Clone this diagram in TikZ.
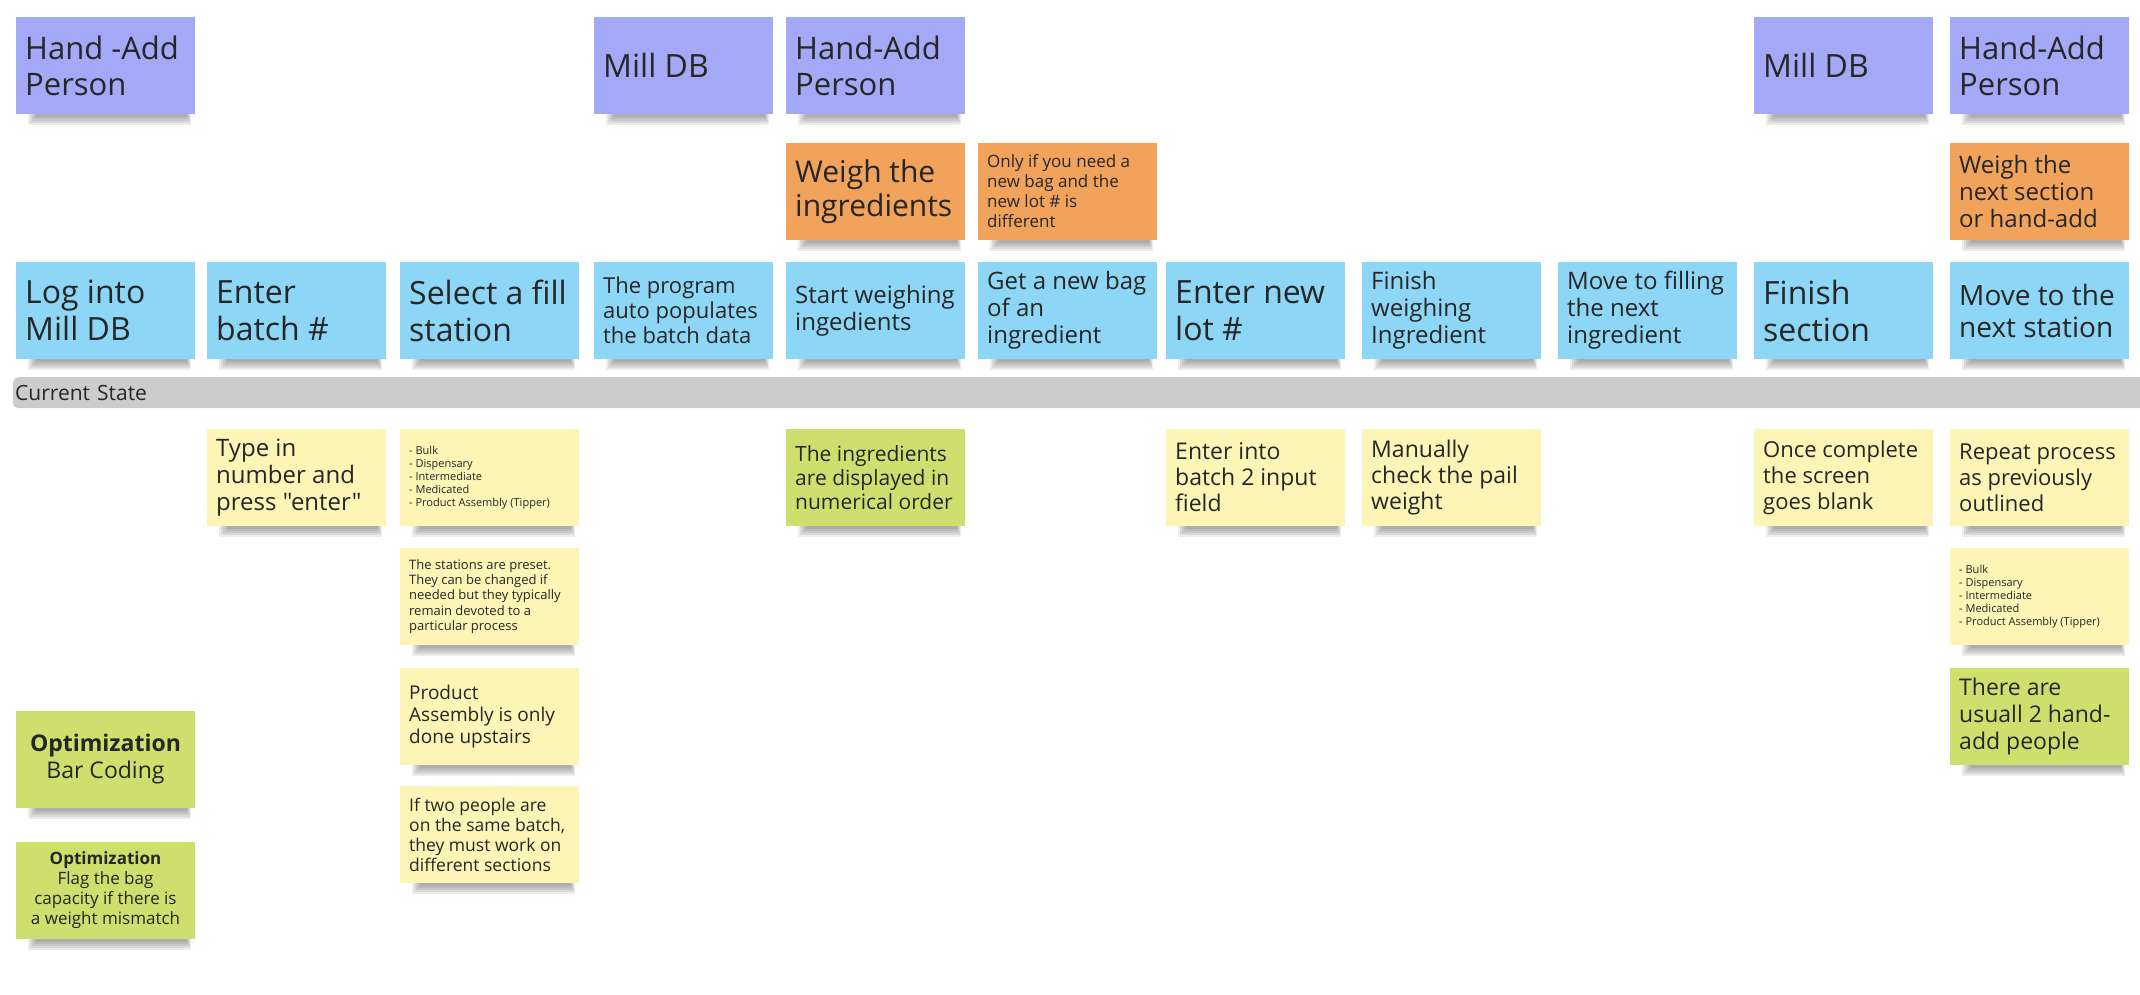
\documentclass[tikz,border=0pt]{standalone}
\usepackage{fontspec}
\setmainfont{Open Sans}[Ligatures=TeXOff]
\definecolor{purp}{HTML}{A3A9F6}
\definecolor{blu}{HTML}{8ED6F5}
\definecolor{oran}{HTML}{F1A35B}
\definecolor{yell}{HTML}{FDF5B6}
\definecolor{gree}{HTML}{CEDF6E}
\definecolor{barc}{HTML}{CCCCCC}
\definecolor{ink}{HTML}{262626}
\newcommand\stkshadow[2]{%
  \foreach \k in {1,...,5} {\fill[black,opacity=0.075] (#1+10+2*\k,#2+94) rectangle (#1+176-\k,#2+97+13-2*\k);}}
\newcommand\stk[6]{% name, x, y, fill, font, text
  \stkshadow{#2}{#3}
  \node[box,fill=#4] (#1) at (#2,#3) {};
  \node[txt,font={#5}] (#1-t) at ([xshift=9pt]#1.west) {#6};
}
\newcommand\stkc[6]{% centred text
  \stkshadow{#2}{#3}
  \node[box,fill=#4] (#1) at (#2,#3) {};
  \node[txt,anchor=center,align=center,font={#5}] (#1-t) at (#1.center) {#6};
}
\begin{document}
\begin{tikzpicture}[x=1pt,y=-1pt,
  box/.style={anchor=north west,minimum width=179pt,minimum height=97pt,inner sep=0pt,outer sep=0pt},
  txt/.style={anchor=west,align=left,inner sep=0pt,text=ink}]
\useasboundingbox (0,0) rectangle (2140,994);
% purple
\stk{p1}{16}{17}{purp}{\fontsize{31}{36}\selectfont}{Hand -Add\\Person}
\stk{p4}{594}{17}{purp}{\fontsize{32}{36}\selectfont}{Mill DB}
\stk{p5}{786}{17}{purp}{\fontsize{31}{36}\selectfont}{Hand-Add\\Person}
\stk{p10}{1754}{17}{purp}{\fontsize{32}{36}\selectfont}{Mill DB}
\stk{p11}{1950}{17}{purp}{\fontsize{31}{36}\selectfont}{Hand-Add\\Person}
% orange
\stk{o5}{786}{143}{oran}{\fontsize{30}{34}\selectfont}{Weigh the\\ingredients}
\stk{o6}{978}{143}{oran}{\fontsize{17}{20}\selectfont}{Only if you need a\\new bag and the\\new lot \# is\\different}
\stk{o11}{1950}{143}{oran}{\fontsize{24}{27}\selectfont}{Weigh the\\next section\\or hand-add}
% blue
\stk{b1}{16}{262}{blu}{\fontsize{32}{37}\selectfont}{Log into\\Mill DB}
\stk{b2}{207}{262}{blu}{\fontsize{32}{37}\selectfont}{Enter\\batch \#}
\stk{b3}{400}{262}{blu}{\fontsize{32}{37}\selectfont}{Select a fill\\station}
\stk{b4}{594}{262}{blu}{\fontsize{22}{25}\selectfont}{The program\\auto populates\\the batch data}
\stk{b5}{786}{262}{blu}{\fontsize{24}{27}\selectfont}{Start weighing\\ingedients}
\stk{b6}{978}{262}{blu}{\fontsize{24}{27}\selectfont}{Get a new bag\\of an\\ingredient}
\stk{b7}{1166}{262}{blu}{\fontsize{32}{37}\selectfont}{Enter new\\lot \#}
\stk{b8}{1362}{262}{blu}{\fontsize{24}{27}\selectfont}{Finish\\weighing\\Ingredient}
\stk{b9}{1558}{262}{blu}{\fontsize{24}{27}\selectfont}{Move to filling\\the next\\ingredient}
\stk{b10}{1754}{262}{blu}{\fontsize{32}{37}\selectfont}{Finish\\section}
\stk{b11}{1950}{262}{blu}{\fontsize{28}{32}\selectfont}{Move to the\\next station}
% bar
\node[anchor=north west,fill=barc,rounded corners=5pt,minimum height=31pt,text width=2140pt,
  inner xsep=2pt,inner ysep=0pt,align=left,text=ink,font=\fontsize{21}{24}\selectfont] (cs) at (13,377) {Current State};
% lower rows
\stk{y2}{207}{429}{yell}{\fontsize{24}{27}\selectfont}{Type in\\number and\\press "enter"}
\stk{y3a}{400}{429}{yell}{\fontsize{11}{13}\selectfont}{- Bulk\\- Dispensary\\- Intermediate\\- Medicated\\- Product Assembly (Tipper)}
\stk{g5}{786}{429}{gree}{\fontsize{21}{24}\selectfont}{The ingredients\\are displayed in\\numerical order}
\stk{y7}{1166}{429}{yell}{\fontsize{23}{26}\selectfont}{Enter into\\batch 2 input\\field}
\stk{y8}{1362}{429}{yell}{\fontsize{23}{26}\selectfont}{Manually\\check the pail\\weight}
\stk{y10}{1754}{429}{yell}{\fontsize{22}{26}\selectfont}{Once complete\\the screen\\goes blank}
\stk{y11}{1950}{429}{yell}{\fontsize{22}{26}\selectfont}{Repeat process\\as previously\\outlined}
\stk{y3b}{400}{548}{yell}{\fontsize{13}{15.3}\selectfont}{The stations are preset.\\They can be changed if\\needed but they typically\\remain devoted to a\\particular process}
\stk{y11b}{1950}{548}{yell}{\fontsize{11}{13}\selectfont}{- Bulk\\- Dispensary\\- Intermediate\\- Medicated\\- Product Assembly (Tipper)}
\stk{y3c}{400}{668}{yell}{\fontsize{19}{21.7}\selectfont}{Product\\Assembly is only\\done upstairs}
\stk{g11}{1950}{668}{gree}{\fontsize{23}{27}\selectfont}{There are\\usuall 2 hand-\\add people}
\stk{y3d}{400}{786}{yell}{\fontsize{17.5}{20}\selectfont}{If two people are\\on the same batch,\\they must work on\\different sections}
\stkc{g1a}{16}{711}{gree}{\fontsize{23}{27}\selectfont}{\textbf{Optimization}\\Bar Coding}
\stkc{g1b}{16}{842}{gree}{\fontsize{17}{20}\selectfont}{\textbf{Optimization}\\Flag the bag\\capacity if there is\\a weight mismatch}
\end{tikzpicture}
\end{document}
